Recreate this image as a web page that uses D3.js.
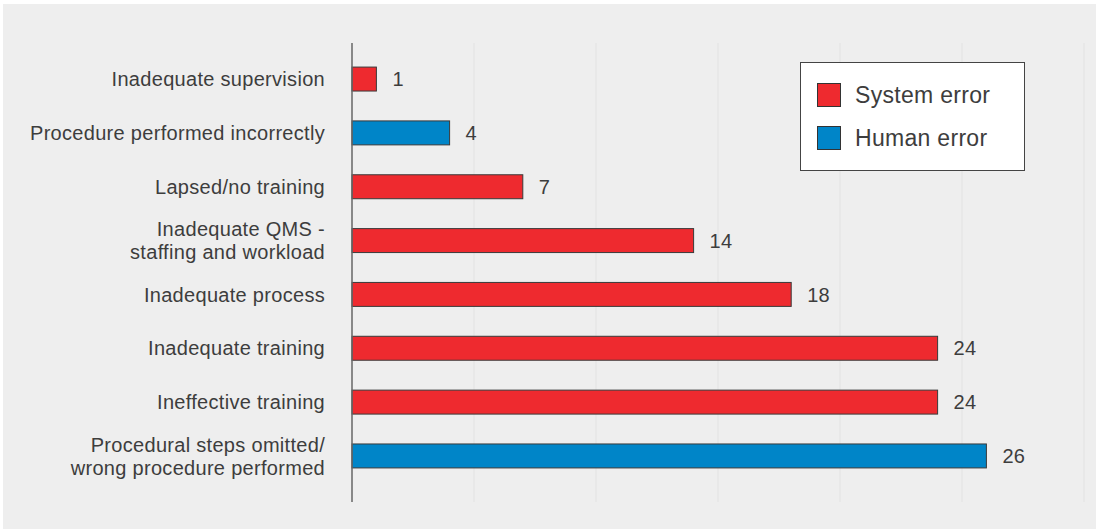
<!DOCTYPE html>
<html><head><meta charset="utf-8">
<script src="https://cdn.jsdelivr.net/npm/d3@7"></script>
<style>html,body{margin:0;padding:0;background:#fff;}svg{display:block;}</style>
</head><body>
<svg id="c" width="1096" height="531"></svg>
<script>
const categories = [
  ["Inadequate supervision"],
  ["Procedure performed incorrectly"],
  ["Lapsed/no training"],
  ["Inadequate QMS -", "staffing and workload"],
  ["Inadequate process"],
  ["Inadequate training"],
  ["Ineffective training"],
  ["Procedural steps omitted/", "wrong procedure performed"]
];
const values = [1, 4, 7, 14, 18, 24, 24, 26];
const errorTypes = ["System", "Human", "System", "System", "System", "System", "System", "Human"];
const legendLabels = ["System error", "Human error"];
const xTicks = [0, 5, 10, 15, 20, 25, 30];

const colors = {System: "#ee2a2f", Human: "#0085c8"};
const svg = d3.select("#c");
const font = "'Liberation Sans', Arial, sans-serif";
const textColor = "#3d3d3d";

svg.append("rect").attr("x", 3).attr("y", 4).attr("width", 1093).attr("height", 525).attr("fill", "#eeeeee");

const x = d3.scaleLinear().domain([0, 30]).range([352, 1084]);
const y = d3.scaleBand().domain(d3.range(categories.length)).range([52, 483]).paddingInner(0.555).paddingOuter(0.28);

// gridlines
svg.append("g").selectAll("line").data(xTicks.slice(1)).join("line")
  .attr("x1", d => x(d)).attr("x2", d => x(d)).attr("y1", 43).attr("y2", 502)
  .attr("stroke", "#e2e2e2").attr("stroke-width", 1);

// bars
const idx = d3.range(values.length);
svg.append("g").selectAll("rect").data(idx).join("rect")
  .attr("x", x(0)).attr("y", i => y(i))
  .attr("width", i => x(values[i]) - x(0)).attr("height", y.bandwidth())
  .attr("fill", i => colors[errorTypes[i]])
  .attr("stroke", "#3a3a3a").attr("stroke-width", 1);

// axis line
svg.append("line").attr("x1", x(0)).attr("x2", x(0)).attr("y1", 43).attr("y2", 502)
  .attr("stroke", "#666").attr("stroke-width", 1.5);

// value labels
svg.append("g").selectAll("text").data(idx).join("text")
  .attr("x", i => x(values[i]) + 16).attr("y", i => y(i) + y.bandwidth() / 2)
  .attr("dy", "0.36em").attr("font-family", font).attr("font-size", 20).attr("fill", textColor)
  .attr("letter-spacing", 0.3)
  .text(i => values[i]);

// category labels
const lg = svg.append("g").selectAll("text").data(idx).join("text")
  .attr("text-anchor", "end").attr("font-family", font).attr("font-size", 20).attr("fill", textColor)
  .attr("letter-spacing", 0.3)
  .attr("transform", i => `translate(325,${y(i) + y.bandwidth() / 2})`);
lg.each(function(i) {
  const lines = categories[i];
  const t = d3.select(this);
  const lh = 23;
  lines.forEach((l, k) => {
    t.append("tspan").attr("x", 0).attr("y", (k - (lines.length - 1) / 2) * lh).attr("dy", "0.36em").text(l);
  });
});

// legend
const leg = svg.append("g");
leg.append("rect").attr("x", 800.5).attr("y", 62.5).attr("width", 224).attr("height", 108)
  .attr("fill", "#fff").attr("stroke", "#444").attr("stroke-width", 1);
legendLabels.forEach((l, k) => {
  const key = k === 0 ? "System" : "Human";
  leg.append("rect").attr("x", 817.5).attr("y", 83.5 + k * 43).attr("width", 23).attr("height", 23)
    .attr("fill", colors[key]).attr("stroke", "#333").attr("stroke-width", 1);
  leg.append("text").attr("x", 855).attr("y", 95 + k * 43).attr("dy", "0.36em")
    .attr("font-family", font).attr("font-size", 23).attr("letter-spacing", 0.3).attr("fill", textColor).text(l);
});
</script>
</body></html>
